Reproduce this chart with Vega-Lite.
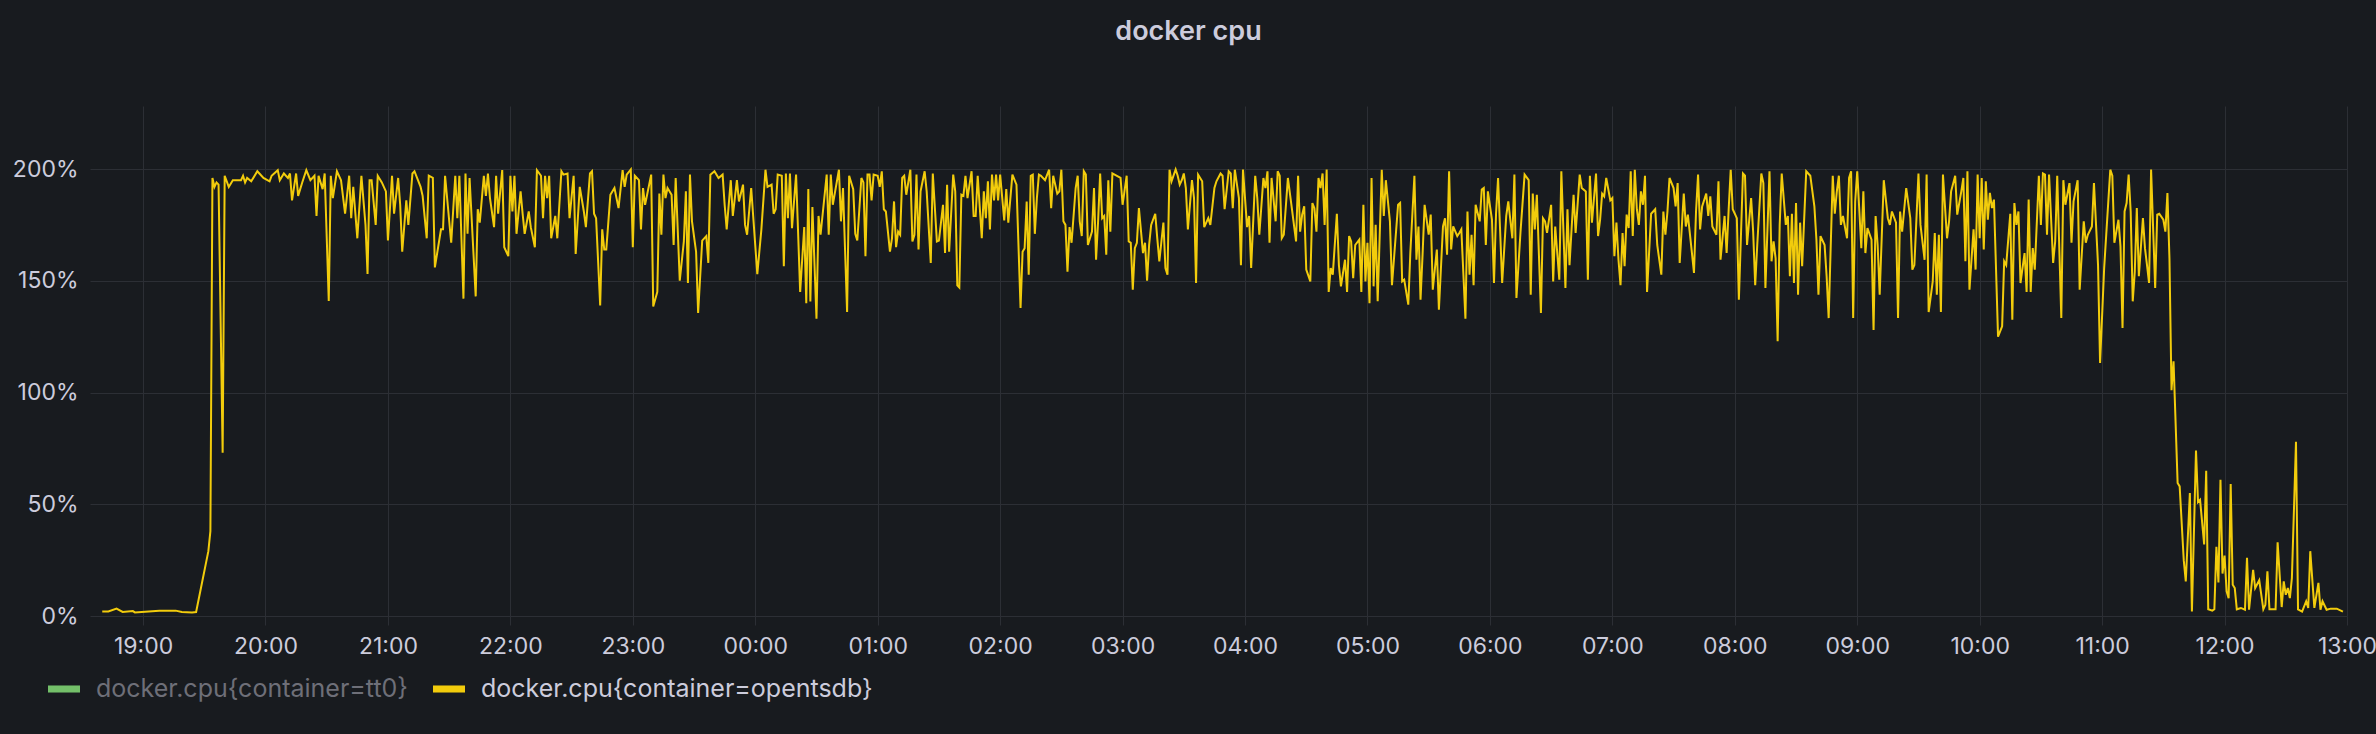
{
"$schema": "https://vega.github.io/schema/vega-lite/v6.json",
"width": 2257, "height": 510,
"autosize": {"type": "none"},
"padding": {"left": 90, "top": 106, "right": 29, "bottom": 118},
"background": "#181b1f",
"config": {"view": {"stroke": null}},
"title": {"text": "docker cpu", "anchor": "middle", "frame": "group", "dx": -30, "offset": 60, "fontSize": 27, "font": "Inter", "fontWeight": 600, "color": "#ccccdc"},
"layer": [
{
"data": {"values": [
{"t":"2024-01-01T18:40","v":2},{"t":"2024-01-01T18:43","v":2},{"t":"2024-01-01T18:47","v":3.3},{"t":"2024-01-01T18:50","v":1.8},{"t":"2024-01-01T18:55","v":2.2},{"t":"2024-01-01T18:56","v":1.6},{"t":"2024-01-01T19:01","v":1.9},{"t":"2024-01-01T19:08","v":2.3},{"t":"2024-01-01T19:16","v":2.4},{"t":"2024-01-01T19:19","v":1.8},{"t":"2024-01-01T19:24","v":1.6},{"t":"2024-01-01T19:26","v":1.8},{"t":"2024-01-01T19:32","v":29},{"t":"2024-01-01T19:33","v":38},{"t":"2024-01-01T19:34","v":196},{"t":"2024-01-01T19:35","v":192},{"t":"2024-01-01T19:36","v":194},{"t":"2024-01-01T19:37","v":193},{"t":"2024-01-01T19:39","v":73},{"t":"2024-01-01T19:40","v":197},{"t":"2024-01-01T19:42","v":192},{"t":"2024-01-01T19:44","v":195},{"t":"2024-01-01T19:48","v":195},{"t":"2024-01-01T19:49","v":197},{"t":"2024-01-01T19:50","v":194},{"t":"2024-01-01T19:51","v":196},{"t":"2024-01-01T19:53","v":194.5},{"t":"2024-01-01T19:56","v":199},{"t":"2024-01-01T19:59","v":196},
{"t":"2024-01-01T20:02","v":194.5},{"t":"2024-01-01T20:03","v":197},{"t":"2024-01-01T20:06","v":199.5},{"t":"2024-01-01T20:07","v":195},{"t":"2024-01-01T20:09","v":198},{"t":"2024-01-01T20:11","v":196},{"t":"2024-01-01T20:12","v":198},{"t":"2024-01-01T20:13","v":186},{"t":"2024-01-01T20:15","v":198},{"t":"2024-01-01T20:16","v":188},{"t":"2024-01-01T20:18","v":194},{"t":"2024-01-01T20:20","v":199.5},{"t":"2024-01-01T20:22","v":195},{"t":"2024-01-01T20:24","v":197},{"t":"2024-01-01T20:25","v":179},{"t":"2024-01-01T20:26","v":197},{"t":"2024-01-01T20:28","v":191},{"t":"2024-01-01T20:29","v":198},{"t":"2024-01-01T20:31","v":141},{"t":"2024-01-01T20:32","v":197},{"t":"2024-01-01T20:33","v":187},{"t":"2024-01-01T20:35","v":199},{"t":"2024-01-01T20:37","v":195},{"t":"2024-01-01T20:39","v":180},{"t":"2024-01-01T20:41","v":197},{"t":"2024-01-01T20:42","v":178},{"t":"2024-01-01T20:43","v":192},{"t":"2024-01-01T20:45","v":169},{"t":"2024-01-01T20:47","v":197},{"t":"2024-01-01T20:49","v":175},{"t":"2024-01-01T20:50","v":153},{"t":"2024-01-01T20:51","v":195},{"t":"2024-01-01T20:52","v":195},{"t":"2024-01-01T20:54","v":175},{"t":"2024-01-01T20:55","v":197},{"t":"2024-01-01T20:57","v":194},{"t":"2024-01-01T20:59","v":190},
{"t":"2024-01-01T21:00","v":168},{"t":"2024-01-01T21:02","v":197},{"t":"2024-01-01T21:03","v":180},{"t":"2024-01-01T21:05","v":196},{"t":"2024-01-01T21:06","v":184},{"t":"2024-01-01T21:07","v":163},{"t":"2024-01-01T21:09","v":186},{"t":"2024-01-01T21:10","v":175},{"t":"2024-01-01T21:12","v":198},{"t":"2024-01-01T21:13","v":199},{"t":"2024-01-01T21:16","v":192},{"t":"2024-01-01T21:17","v":188},{"t":"2024-01-01T21:19","v":169},{"t":"2024-01-01T21:20","v":197},{"t":"2024-01-01T21:22","v":196},{"t":"2024-01-01T21:23","v":156},{"t":"2024-01-01T21:26","v":173},{"t":"2024-01-01T21:27","v":173},{"t":"2024-01-01T21:28","v":197},{"t":"2024-01-01T21:31","v":167},{"t":"2024-01-01T21:33","v":197},{"t":"2024-01-01T21:34","v":178},{"t":"2024-01-01T21:35","v":197},{"t":"2024-01-01T21:37","v":142},{"t":"2024-01-01T21:38","v":198},{"t":"2024-01-01T21:39","v":171},{"t":"2024-01-01T21:40","v":196},{"t":"2024-01-01T21:43","v":143},{"t":"2024-01-01T21:44","v":182},{"t":"2024-01-01T21:45","v":176},{"t":"2024-01-01T21:47","v":197},{"t":"2024-01-01T21:48","v":188},{"t":"2024-01-01T21:49","v":198},{"t":"2024-01-01T21:50","v":187},{"t":"2024-01-01T21:52","v":174},{"t":"2024-01-01T21:53","v":197},{"t":"2024-01-01T21:54","v":180},{"t":"2024-01-01T21:56","v":199.5},{"t":"2024-01-01T21:57","v":165},{"t":"2024-01-01T21:59","v":161},
{"t":"2024-01-01T22:00","v":197},{"t":"2024-01-01T22:01","v":181},{"t":"2024-01-01T22:02","v":197},{"t":"2024-01-01T22:03","v":171},{"t":"2024-01-01T22:05","v":190},{"t":"2024-01-01T22:06","v":180},{"t":"2024-01-01T22:07","v":171},{"t":"2024-01-01T22:09","v":181},{"t":"2024-01-01T22:10","v":174},{"t":"2024-01-01T22:12","v":165},{"t":"2024-01-01T22:13","v":199.5},{"t":"2024-01-01T22:15","v":197},{"t":"2024-01-01T22:16","v":178},{"t":"2024-01-01T22:17","v":197},{"t":"2024-01-01T22:18","v":187},{"t":"2024-01-01T22:19","v":197},{"t":"2024-01-01T22:20","v":169},{"t":"2024-01-01T22:22","v":179},{"t":"2024-01-01T22:23","v":169},{"t":"2024-01-01T22:25","v":199},{"t":"2024-01-01T22:26","v":197.5},{"t":"2024-01-01T22:28","v":198},{"t":"2024-01-01T22:29","v":178},{"t":"2024-01-01T22:31","v":197},{"t":"2024-01-01T22:32","v":162},{"t":"2024-01-01T22:34","v":192},{"t":"2024-01-01T22:36","v":181},{"t":"2024-01-01T22:37","v":174},{"t":"2024-01-01T22:39","v":198},{"t":"2024-01-01T22:40","v":199},{"t":"2024-01-01T22:41","v":180},{"t":"2024-01-01T22:42","v":178},{"t":"2024-01-01T22:44","v":139},{"t":"2024-01-01T22:45","v":173},{"t":"2024-01-01T22:46","v":164},{"t":"2024-01-01T22:47","v":164},{"t":"2024-01-01T22:49","v":188.5},{"t":"2024-01-01T22:51","v":191.5},{"t":"2024-01-01T22:53","v":182.5},{"t":"2024-01-01T22:55","v":199.5},{"t":"2024-01-01T22:56","v":192},{"t":"2024-01-01T22:57","v":197.5},{"t":"2024-01-01T22:59","v":199.8},
{"t":"2024-01-01T23:00","v":165},{"t":"2024-01-01T23:01","v":197},{"t":"2024-01-01T23:03","v":195},{"t":"2024-01-01T23:04","v":173},{"t":"2024-01-01T23:05","v":191.5},{"t":"2024-01-01T23:06","v":184},{"t":"2024-01-01T23:09","v":197.5},{"t":"2024-01-01T23:10","v":138.5},{"t":"2024-01-01T23:12","v":145},{"t":"2024-01-01T23:13","v":189},{"t":"2024-01-01T23:14","v":170.6},{"t":"2024-01-01T23:15","v":197.5},{"t":"2024-01-01T23:16","v":187},{"t":"2024-01-01T23:17","v":191.5},{"t":"2024-01-01T23:19","v":188.5},{"t":"2024-01-01T23:20","v":166},{"t":"2024-01-01T23:21","v":196},{"t":"2024-01-01T23:23","v":150},{"t":"2024-01-01T23:25","v":167.6},{"t":"2024-01-01T23:26","v":190},{"t":"2024-01-01T23:27","v":149},{"t":"2024-01-01T23:28","v":197.5},{"t":"2024-01-01T23:29","v":176.6},{"t":"2024-01-01T23:31","v":163},{"t":"2024-01-01T23:32","v":135.6},{"t":"2024-01-01T23:34","v":168},{"t":"2024-01-01T23:36","v":170},{"t":"2024-01-01T23:37","v":158},{"t":"2024-01-01T23:38","v":197.5},{"t":"2024-01-01T23:40","v":199},{"t":"2024-01-01T23:42","v":196},{"t":"2024-01-01T23:44","v":197.5},{"t":"2024-01-01T23:45","v":184},{"t":"2024-01-01T23:46","v":173},{"t":"2024-01-01T23:48","v":195},{"t":"2024-01-01T23:49","v":179},{"t":"2024-01-01T23:51","v":195},{"t":"2024-01-01T23:52","v":185.5},{"t":"2024-01-01T23:54","v":193},{"t":"2024-01-01T23:55","v":175},{"t":"2024-01-01T23:56","v":170.6},{"t":"2024-01-01T23:58","v":191.5},
{"t":"2024-01-02T00:01","v":153},{"t":"2024-01-02T00:03","v":173},{"t":"2024-01-02T00:05","v":199.7},{"t":"2024-01-02T00:06","v":192},{"t":"2024-01-02T00:08","v":193},{"t":"2024-01-02T00:09","v":180},{"t":"2024-01-02T00:10","v":182},{"t":"2024-01-02T00:11","v":197.5},{"t":"2024-01-02T00:13","v":197},{"t":"2024-01-02T00:14","v":156.5},{"t":"2024-01-02T00:15","v":198},{"t":"2024-01-02T00:16","v":178},{"t":"2024-01-02T00:17","v":198},{"t":"2024-01-02T00:18","v":173.5},{"t":"2024-01-02T00:20","v":197.5},{"t":"2024-01-02T00:22","v":145},{"t":"2024-01-02T00:24","v":174},{"t":"2024-01-02T00:25","v":140},{"t":"2024-01-02T00:26","v":191},{"t":"2024-01-02T00:27","v":140.7},{"t":"2024-01-02T00:28","v":183},{"t":"2024-01-02T00:30","v":133},{"t":"2024-01-02T00:31","v":179},{"t":"2024-01-02T00:32","v":170.6},{"t":"2024-01-02T00:35","v":197.5},{"t":"2024-01-02T00:36","v":170.6},{"t":"2024-01-02T00:37","v":197.5},{"t":"2024-01-02T00:38","v":184},{"t":"2024-01-02T00:41","v":199.7},{"t":"2024-01-02T00:42","v":176.6},{"t":"2024-01-02T00:43","v":191.5},{"t":"2024-01-02T00:45","v":136},{"t":"2024-01-02T00:46","v":197},{"t":"2024-01-02T00:48","v":191},{"t":"2024-01-02T00:49","v":171},{"t":"2024-01-02T00:50","v":168},{"t":"2024-01-02T00:52","v":196},{"t":"2024-01-02T00:53","v":194},{"t":"2024-01-02T00:54","v":161},{"t":"2024-01-02T00:55","v":197.5},{"t":"2024-01-02T00:56","v":197.5},{"t":"2024-01-02T00:57","v":186},{"t":"2024-01-02T00:58","v":197.5},
{"t":"2024-01-02T01:00","v":197},{"t":"2024-01-02T01:01","v":192},{"t":"2024-01-02T01:02","v":199},{"t":"2024-01-02T01:03","v":182},{"t":"2024-01-02T01:04","v":181},{"t":"2024-01-02T01:06","v":163},{"t":"2024-01-02T01:07","v":169},{"t":"2024-01-02T01:08","v":185.5},{"t":"2024-01-02T01:09","v":165},{"t":"2024-01-02T01:10","v":172},{"t":"2024-01-02T01:11","v":170.6},{"t":"2024-01-02T01:12","v":196},{"t":"2024-01-02T01:13","v":197},{"t":"2024-01-02T01:14","v":188.5},{"t":"2024-01-02T01:16","v":199.7},{"t":"2024-01-02T01:17","v":167.6},{"t":"2024-01-02T01:18","v":170.6},{"t":"2024-01-02T01:19","v":197.5},{"t":"2024-01-02T01:20","v":164},{"t":"2024-01-02T01:21","v":190},{"t":"2024-01-02T01:23","v":199},{"t":"2024-01-02T01:24","v":190},{"t":"2024-01-02T01:26","v":158},{"t":"2024-01-02T01:27","v":198},{"t":"2024-01-02T01:29","v":167.6},{"t":"2024-01-02T01:30","v":168},{"t":"2024-01-02T01:32","v":184},{"t":"2024-01-02T01:33","v":162.4},{"t":"2024-01-02T01:34","v":193},{"t":"2024-01-02T01:35","v":163},{"t":"2024-01-02T01:37","v":197.5},{"t":"2024-01-02T01:38","v":190},{"t":"2024-01-02T01:39","v":148},{"t":"2024-01-02T01:40","v":147},{"t":"2024-01-02T01:41","v":188.5},{"t":"2024-01-02T01:42","v":188},{"t":"2024-01-02T01:43","v":197},{"t":"2024-01-02T01:44","v":187},{"t":"2024-01-02T01:46","v":199},{"t":"2024-01-02T01:47","v":179},{"t":"2024-01-02T01:48","v":179},{"t":"2024-01-02T01:49","v":197},{"t":"2024-01-02T01:51","v":169},{"t":"2024-01-02T01:52","v":190},{"t":"2024-01-02T01:53","v":178},{"t":"2024-01-02T01:54","v":194.5},{"t":"2024-01-02T01:55","v":173},{"t":"2024-01-02T01:56","v":197.5},{"t":"2024-01-02T01:57","v":186},{"t":"2024-01-02T01:58","v":197.5},{"t":"2024-01-02T01:59","v":186},
{"t":"2024-01-02T02:00","v":197.5},{"t":"2024-01-02T02:02","v":177},{"t":"2024-01-02T02:03","v":191},{"t":"2024-01-02T02:04","v":176},{"t":"2024-01-02T02:06","v":197.5},{"t":"2024-01-02T02:08","v":193},{"t":"2024-01-02T02:10","v":137.8},{"t":"2024-01-02T02:11","v":163},{"t":"2024-01-02T02:12","v":164.6},{"t":"2024-01-02T02:13","v":185.5},{"t":"2024-01-02T02:14","v":152.7},{"t":"2024-01-02T02:15","v":197},{"t":"2024-01-02T02:16","v":197.5},{"t":"2024-01-02T02:17","v":171},{"t":"2024-01-02T02:18","v":187},{"t":"2024-01-02T02:19","v":197.5},{"t":"2024-01-02T02:20","v":197},{"t":"2024-01-02T02:22","v":195},{"t":"2024-01-02T02:24","v":199.7},{"t":"2024-01-02T02:25","v":182.5},{"t":"2024-01-02T02:26","v":197},{"t":"2024-01-02T02:28","v":189},{"t":"2024-01-02T02:29","v":190},{"t":"2024-01-02T02:30","v":199.7},{"t":"2024-01-02T02:31","v":176.6},{"t":"2024-01-02T02:32","v":175},{"t":"2024-01-02T02:33","v":154},{"t":"2024-01-02T02:34","v":174},{"t":"2024-01-02T02:35","v":167},{"t":"2024-01-02T02:37","v":191.5},{"t":"2024-01-02T02:38","v":197},{"t":"2024-01-02T02:39","v":176.6},{"t":"2024-01-02T02:40","v":170},{"t":"2024-01-02T02:41","v":199},{"t":"2024-01-02T02:42","v":197.5},{"t":"2024-01-02T02:43","v":166},{"t":"2024-01-02T02:45","v":172},{"t":"2024-01-02T02:46","v":191.5},{"t":"2024-01-02T02:47","v":159.4},{"t":"2024-01-02T02:48","v":176.6},{"t":"2024-01-02T02:49","v":198},{"t":"2024-01-02T02:50","v":178},{"t":"2024-01-02T02:51","v":179},{"t":"2024-01-02T02:52","v":161.7},{"t":"2024-01-02T02:53","v":195},{"t":"2024-01-02T02:54","v":172},{"t":"2024-01-02T02:55","v":198},{"t":"2024-01-02T02:57","v":197},{"t":"2024-01-02T02:59","v":196},
{"t":"2024-01-02T03:00","v":184},{"t":"2024-01-02T03:02","v":197},{"t":"2024-01-02T03:03","v":167.6},{"t":"2024-01-02T03:04","v":167},{"t":"2024-01-02T03:05","v":146},{"t":"2024-01-02T03:06","v":164.6},{"t":"2024-01-02T03:07","v":167},{"t":"2024-01-02T03:08","v":182.5},{"t":"2024-01-02T03:10","v":162.4},{"t":"2024-01-02T03:11","v":167},{"t":"2024-01-02T03:12","v":150},{"t":"2024-01-02T03:13","v":166},{"t":"2024-01-02T03:14","v":175},{"t":"2024-01-02T03:16","v":180},{"t":"2024-01-02T03:17","v":169},{"t":"2024-01-02T03:18","v":158.7},{"t":"2024-01-02T03:20","v":176},{"t":"2024-01-02T03:21","v":155.7},{"t":"2024-01-02T03:22","v":152.7},{"t":"2024-01-02T03:23","v":199.7},{"t":"2024-01-02T03:24","v":194.5},{"t":"2024-01-02T03:26","v":199.8},{"t":"2024-01-02T03:27","v":197},{"t":"2024-01-02T03:28","v":193},{"t":"2024-01-02T03:29","v":195},{"t":"2024-01-02T03:30","v":198},{"t":"2024-01-02T03:31","v":191.5},{"t":"2024-01-02T03:32","v":173},{"t":"2024-01-02T03:34","v":195},{"t":"2024-01-02T03:35","v":187},{"t":"2024-01-02T03:36","v":149},{"t":"2024-01-02T03:37","v":197.5},{"t":"2024-01-02T03:39","v":194.5},{"t":"2024-01-02T03:40","v":174},{"t":"2024-01-02T03:42","v":178},{"t":"2024-01-02T03:43","v":175},{"t":"2024-01-02T03:45","v":191.5},{"t":"2024-01-02T03:46","v":194.5},{"t":"2024-01-02T03:48","v":198},{"t":"2024-01-02T03:49","v":197},{"t":"2024-01-02T03:50","v":182},{"t":"2024-01-02T03:52","v":199},{"t":"2024-01-02T03:53","v":198},{"t":"2024-01-02T03:54","v":182.5},{"t":"2024-01-02T03:55","v":199.7},{"t":"2024-01-02T03:57","v":187},{"t":"2024-01-02T03:58","v":157},{"t":"2024-01-02T03:59","v":199.8},
{"t":"2024-01-02T04:01","v":174},{"t":"2024-01-02T04:02","v":179},{"t":"2024-01-02T04:03","v":155.7},{"t":"2024-01-02T04:05","v":197},{"t":"2024-01-02T04:06","v":187},{"t":"2024-01-02T04:07","v":170.6},{"t":"2024-01-02T04:09","v":196},{"t":"2024-01-02T04:10","v":191.5},{"t":"2024-01-02T04:11","v":199},{"t":"2024-01-02T04:12","v":167},{"t":"2024-01-02T04:13","v":196},{"t":"2024-01-02T04:15","v":176.6},{"t":"2024-01-02T04:16","v":199},{"t":"2024-01-02T04:17","v":197},{"t":"2024-01-02T04:18","v":169},{"t":"2024-01-02T04:19","v":170.6},{"t":"2024-01-02T04:21","v":196},{"t":"2024-01-02T04:23","v":182},{"t":"2024-01-02T04:25","v":167.6},{"t":"2024-01-02T04:26","v":197},{"t":"2024-01-02T04:27","v":172},{"t":"2024-01-02T04:28","v":179.6},{"t":"2024-01-02T04:29","v":183.3},{"t":"2024-01-02T04:30","v":155},{"t":"2024-01-02T04:32","v":149.7},{"t":"2024-01-02T04:33","v":184.8},{"t":"2024-01-02T04:34","v":182.5},{"t":"2024-01-02T04:35","v":172},{"t":"2024-01-02T04:36","v":196},{"t":"2024-01-02T04:37","v":191.5},{"t":"2024-01-02T04:38","v":198},{"t":"2024-01-02T04:39","v":175},{"t":"2024-01-02T04:40","v":199.8},{"t":"2024-01-02T04:41","v":145},{"t":"2024-01-02T04:42","v":155.7},{"t":"2024-01-02T04:43","v":152.7},{"t":"2024-01-02T04:45","v":180},{"t":"2024-01-02T04:46","v":157},{"t":"2024-01-02T04:47","v":147.5},{"t":"2024-01-02T04:49","v":159.4},{"t":"2024-01-02T04:50","v":145},{"t":"2024-01-02T04:51","v":170},{"t":"2024-01-02T04:52","v":167.6},{"t":"2024-01-02T04:53","v":151.2},{"t":"2024-01-02T04:54","v":166},{"t":"2024-01-02T04:56","v":168.4},{"t":"2024-01-02T04:57","v":145},{"t":"2024-01-02T04:58","v":184},{"t":"2024-01-02T04:59","v":149.7},
{"t":"2024-01-02T05:00","v":167},{"t":"2024-01-02T05:01","v":140},{"t":"2024-01-02T05:02","v":196},{"t":"2024-01-02T05:03","v":147.5},{"t":"2024-01-02T05:04","v":175},{"t":"2024-01-02T05:05","v":140.8},{"t":"2024-01-02T05:07","v":199.7},{"t":"2024-01-02T05:08","v":179},{"t":"2024-01-02T05:09","v":195},{"t":"2024-01-02T05:11","v":176.6},{"t":"2024-01-02T05:12","v":148},{"t":"2024-01-02T05:14","v":172},{"t":"2024-01-02T05:15","v":184},{"t":"2024-01-02T05:16","v":184.8},{"t":"2024-01-02T05:17","v":149.7},{"t":"2024-01-02T05:18","v":150.5},{"t":"2024-01-02T05:20","v":139.3},{"t":"2024-01-02T05:21","v":162.4},{"t":"2024-01-02T05:23","v":197},{"t":"2024-01-02T05:24","v":159.4},{"t":"2024-01-02T05:25","v":174.3},{"t":"2024-01-02T05:26","v":141.5},{"t":"2024-01-02T05:27","v":161.7},{"t":"2024-01-02T05:28","v":184},{"t":"2024-01-02T05:30","v":170.6},{"t":"2024-01-02T05:31","v":179.6},{"t":"2024-01-02T05:32","v":146},{"t":"2024-01-02T05:34","v":164},{"t":"2024-01-02T05:35","v":137},{"t":"2024-01-02T05:37","v":174.3},{"t":"2024-01-02T05:38","v":178},{"t":"2024-01-02T05:39","v":161.7},{"t":"2024-01-02T05:40","v":199},{"t":"2024-01-02T05:41","v":164},{"t":"2024-01-02T05:42","v":174.3},{"t":"2024-01-02T05:44","v":170},{"t":"2024-01-02T05:45","v":171.4},{"t":"2024-01-02T05:46","v":173},{"t":"2024-01-02T05:48","v":133},{"t":"2024-01-02T05:49","v":181},{"t":"2024-01-02T05:50","v":152.7},{"t":"2024-01-02T05:51","v":170.6},{"t":"2024-01-02T05:52","v":148},{"t":"2024-01-02T05:53","v":184},{"t":"2024-01-02T05:55","v":176.6},{"t":"2024-01-02T05:56","v":190.8},{"t":"2024-01-02T05:57","v":191.5},{"t":"2024-01-02T05:58","v":166},{"t":"2024-01-02T05:59","v":190},
{"t":"2024-01-02T06:01","v":177.4},{"t":"2024-01-02T06:02","v":149},{"t":"2024-01-02T06:03","v":180},{"t":"2024-01-02T06:04","v":196},{"t":"2024-01-02T06:06","v":149},{"t":"2024-01-02T06:08","v":179},{"t":"2024-01-02T06:09","v":185.5},{"t":"2024-01-02T06:11","v":169},{"t":"2024-01-02T06:12","v":197.5},{"t":"2024-01-02T06:13","v":142.3},{"t":"2024-01-02T06:15","v":172},{"t":"2024-01-02T06:17","v":197.5},{"t":"2024-01-02T06:19","v":195},{"t":"2024-01-02T06:20","v":143.8},{"t":"2024-01-02T06:21","v":189},{"t":"2024-01-02T06:22","v":173},{"t":"2024-01-02T06:23","v":188.5},{"t":"2024-01-02T06:25","v":135.6},{"t":"2024-01-02T06:26","v":178},{"t":"2024-01-02T06:27","v":176.6},{"t":"2024-01-02T06:28","v":171.4},{"t":"2024-01-02T06:30","v":184},{"t":"2024-01-02T06:31","v":149.7},{"t":"2024-01-02T06:32","v":174.3},{"t":"2024-01-02T06:34","v":150.5},{"t":"2024-01-02T06:35","v":199},{"t":"2024-01-02T06:37","v":146.8},{"t":"2024-01-02T06:38","v":182},{"t":"2024-01-02T06:39","v":157},{"t":"2024-01-02T06:41","v":188.5},{"t":"2024-01-02T06:42","v":171.4},{"t":"2024-01-02T06:44","v":197.5},{"t":"2024-01-02T06:45","v":191.5},{"t":"2024-01-02T06:47","v":190},{"t":"2024-01-02T06:48","v":150.5},{"t":"2024-01-02T06:49","v":197},{"t":"2024-01-02T06:50","v":176},{"t":"2024-01-02T06:52","v":198},{"t":"2024-01-02T06:53","v":170},{"t":"2024-01-02T06:54","v":177.4},{"t":"2024-01-02T06:55","v":189},{"t":"2024-01-02T06:56","v":187.8},{"t":"2024-01-02T06:57","v":196},{"t":"2024-01-02T06:59","v":186},
{"t":"2024-01-02T07:00","v":187},{"t":"2024-01-02T07:01","v":161},{"t":"2024-01-02T07:02","v":176},{"t":"2024-01-02T07:03","v":159.4},{"t":"2024-01-02T07:04","v":148},{"t":"2024-01-02T07:05","v":171.4},{"t":"2024-01-02T07:06","v":156.5},{"t":"2024-01-02T07:07","v":179.6},{"t":"2024-01-02T07:08","v":173.6},{"t":"2024-01-02T07:09","v":199},{"t":"2024-01-02T07:10","v":170},{"t":"2024-01-02T07:11","v":199.7},{"t":"2024-01-02T07:12","v":182},{"t":"2024-01-02T07:13","v":175},{"t":"2024-01-02T07:14","v":190},{"t":"2024-01-02T07:15","v":184},{"t":"2024-01-02T07:16","v":197},{"t":"2024-01-02T07:17","v":145},{"t":"2024-01-02T07:19","v":180},{"t":"2024-01-02T07:21","v":182},{"t":"2024-01-02T07:22","v":166},{"t":"2024-01-02T07:24","v":152.7},{"t":"2024-01-02T07:25","v":181},{"t":"2024-01-02T07:26","v":170.6},{"t":"2024-01-02T07:27","v":181},{"t":"2024-01-02T07:28","v":196},{"t":"2024-01-02T07:30","v":191.5},{"t":"2024-01-02T07:31","v":183.3},{"t":"2024-01-02T07:32","v":193.7},{"t":"2024-01-02T07:33","v":158},{"t":"2024-01-02T07:35","v":189},{"t":"2024-01-02T07:36","v":174.3},{"t":"2024-01-02T07:37","v":179.6},{"t":"2024-01-02T07:39","v":162.4},{"t":"2024-01-02T07:40","v":153.5},{"t":"2024-01-02T07:41","v":181},{"t":"2024-01-02T07:42","v":197.5},{"t":"2024-01-02T07:43","v":173},{"t":"2024-01-02T07:44","v":183.3},{"t":"2024-01-02T07:46","v":189},{"t":"2024-01-02T07:47","v":179},{"t":"2024-01-02T07:48","v":187.8},{"t":"2024-01-02T07:49","v":174.3},{"t":"2024-01-02T07:51","v":170.6},{"t":"2024-01-02T07:52","v":194.5},{"t":"2024-01-02T07:53","v":159.4},{"t":"2024-01-02T07:55","v":179},{"t":"2024-01-02T07:56","v":162.4},{"t":"2024-01-02T07:57","v":182},{"t":"2024-01-02T07:58","v":199.7},{"t":"2024-01-02T07:59","v":182},
{"t":"2024-01-02T08:01","v":178},{"t":"2024-01-02T08:02","v":141.5},{"t":"2024-01-02T08:04","v":198},{"t":"2024-01-02T08:05","v":197},{"t":"2024-01-02T08:06","v":166},{"t":"2024-01-02T08:08","v":187},{"t":"2024-01-02T08:09","v":172},{"t":"2024-01-02T08:10","v":148},{"t":"2024-01-02T08:11","v":166},{"t":"2024-01-02T08:13","v":198},{"t":"2024-01-02T08:14","v":193.7},{"t":"2024-01-02T08:15","v":146.8},{"t":"2024-01-02T08:17","v":199},{"t":"2024-01-02T08:18","v":158.7},{"t":"2024-01-02T08:19","v":167.6},{"t":"2024-01-02T08:20","v":160},{"t":"2024-01-02T08:21","v":122.9},{"t":"2024-01-02T08:22","v":175},{"t":"2024-01-02T08:23","v":198},{"t":"2024-01-02T08:25","v":175},{"t":"2024-01-02T08:26","v":179},{"t":"2024-01-02T08:27","v":152},{"t":"2024-01-02T08:28","v":180},{"t":"2024-01-02T08:29","v":149},{"t":"2024-01-02T08:30","v":184.8},{"t":"2024-01-02T08:31","v":143.8},{"t":"2024-01-02T08:32","v":176},{"t":"2024-01-02T08:33","v":156.5},{"t":"2024-01-02T08:35","v":199},{"t":"2024-01-02T08:37","v":197},{"t":"2024-01-02T08:39","v":183.3},{"t":"2024-01-02T08:40","v":168.4},{"t":"2024-01-02T08:41","v":143.8},{"t":"2024-01-02T08:42","v":170},{"t":"2024-01-02T08:44","v":166},{"t":"2024-01-02T08:45","v":152},{"t":"2024-01-02T08:46","v":133.3},{"t":"2024-01-02T08:48","v":197},{"t":"2024-01-02T08:49","v":180},{"t":"2024-01-02T08:50","v":190},{"t":"2024-01-02T08:51","v":197},{"t":"2024-01-02T08:52","v":175},{"t":"2024-01-02T08:53","v":179},{"t":"2024-01-02T08:55","v":169},{"t":"2024-01-02T08:56","v":196},{"t":"2024-01-02T08:57","v":199},{"t":"2024-01-02T08:58","v":133.3},{"t":"2024-01-02T08:59","v":185.5},
{"t":"2024-01-02T09:00","v":199},{"t":"2024-01-02T09:02","v":164.6},{"t":"2024-01-02T09:03","v":190},{"t":"2024-01-02T09:04","v":162.4},{"t":"2024-01-02T09:05","v":173.6},{"t":"2024-01-02T09:07","v":168.4},{"t":"2024-01-02T09:08","v":128},{"t":"2024-01-02T09:09","v":179},{"t":"2024-01-02T09:10","v":166},{"t":"2024-01-02T09:11","v":143.8},{"t":"2024-01-02T09:13","v":195},{"t":"2024-01-02T09:15","v":178},{"t":"2024-01-02T09:16","v":175},{"t":"2024-01-02T09:17","v":181},{"t":"2024-01-02T09:19","v":176},{"t":"2024-01-02T09:20","v":133.3},{"t":"2024-01-02T09:21","v":181},{"t":"2024-01-02T09:22","v":172},{"t":"2024-01-02T09:24","v":191.5},{"t":"2024-01-02T09:26","v":178},{"t":"2024-01-02T09:27","v":155},{"t":"2024-01-02T09:28","v":157},{"t":"2024-01-02T09:30","v":198},{"t":"2024-01-02T09:31","v":175},{"t":"2024-01-02T09:33","v":159.4},{"t":"2024-01-02T09:34","v":197.5},{"t":"2024-01-02T09:35","v":136},{"t":"2024-01-02T09:37","v":149.7},{"t":"2024-01-02T09:38","v":171.4},{"t":"2024-01-02T09:39","v":143.8},{"t":"2024-01-02T09:40","v":170.6},{"t":"2024-01-02T09:41","v":136},{"t":"2024-01-02T09:42","v":197.5},{"t":"2024-01-02T09:44","v":169},{"t":"2024-01-02T09:45","v":176.6},{"t":"2024-01-02T09:46","v":190},{"t":"2024-01-02T09:48","v":197},{"t":"2024-01-02T09:49","v":179.6},{"t":"2024-01-02T09:51","v":190},{"t":"2024-01-02T09:52","v":196},{"t":"2024-01-02T09:53","v":158.7},{"t":"2024-01-02T09:54","v":199},{"t":"2024-01-02T09:55","v":146},{"t":"2024-01-02T09:57","v":173},{"t":"2024-01-02T09:58","v":155},{"t":"2024-01-02T09:59","v":197.5},
{"t":"2024-01-02T10:00","v":169},{"t":"2024-01-02T10:01","v":196},{"t":"2024-01-02T10:02","v":164},{"t":"2024-01-02T10:03","v":194.5},{"t":"2024-01-02T10:04","v":177.3},{"t":"2024-01-02T10:05","v":189.3},{"t":"2024-01-02T10:06","v":182.5},{"t":"2024-01-02T10:07","v":186.3},{"t":"2024-01-02T10:09","v":125},{"t":"2024-01-02T10:11","v":129.6},{"t":"2024-01-02T10:12","v":158.7},{"t":"2024-01-02T10:13","v":157},{"t":"2024-01-02T10:15","v":180},{"t":"2024-01-02T10:16","v":132.6},{"t":"2024-01-02T10:17","v":184.8},{"t":"2024-01-02T10:18","v":175},{"t":"2024-01-02T10:19","v":181},{"t":"2024-01-02T10:20","v":149},{"t":"2024-01-02T10:22","v":162.4},{"t":"2024-01-02T10:23","v":145},{"t":"2024-01-02T10:24","v":186.3},{"t":"2024-01-02T10:25","v":145},{"t":"2024-01-02T10:26","v":164.6},{"t":"2024-01-02T10:27","v":155},{"t":"2024-01-02T10:29","v":197},{"t":"2024-01-02T10:30","v":175},{"t":"2024-01-02T10:31","v":198},{"t":"2024-01-02T10:32","v":197.5},{"t":"2024-01-02T10:33","v":170.6},{"t":"2024-01-02T10:34","v":197.5},{"t":"2024-01-02T10:36","v":158},{"t":"2024-01-02T10:37","v":167.6},{"t":"2024-01-02T10:38","v":197},{"t":"2024-01-02T10:40","v":133.3},{"t":"2024-01-02T10:41","v":195},{"t":"2024-01-02T10:42","v":184},{"t":"2024-01-02T10:44","v":193.7},{"t":"2024-01-02T10:45","v":167},{"t":"2024-01-02T10:46","v":185.5},{"t":"2024-01-02T10:48","v":195},{"t":"2024-01-02T10:49","v":146},{"t":"2024-01-02T10:51","v":176.6},{"t":"2024-01-02T10:52","v":167},{"t":"2024-01-02T10:53","v":170.6},{"t":"2024-01-02T10:55","v":174.3},{"t":"2024-01-02T10:56","v":193.7},{"t":"2024-01-02T10:58","v":157},{"t":"2024-01-02T10:59","v":113.2},
{"t":"2024-01-02T11:01","v":155.7},{"t":"2024-01-02T11:04","v":199.7},{"t":"2024-01-02T11:05","v":197},{"t":"2024-01-02T11:06","v":167},{"t":"2024-01-02T11:08","v":177.3},{"t":"2024-01-02T11:09","v":165.4},{"t":"2024-01-02T11:10","v":128.9},{"t":"2024-01-02T11:11","v":181},{"t":"2024-01-02T11:12","v":184.8},{"t":"2024-01-02T11:13","v":197.5},{"t":"2024-01-02T11:14","v":181},{"t":"2024-01-02T11:15","v":140.8},{"t":"2024-01-02T11:16","v":154},{"t":"2024-01-02T11:17","v":182.5},{"t":"2024-01-02T11:18","v":152},{"t":"2024-01-02T11:20","v":178},{"t":"2024-01-02T11:21","v":164.6},{"t":"2024-01-02T11:22","v":157},{"t":"2024-01-02T11:23","v":149},{"t":"2024-01-02T11:24","v":199.8},{"t":"2024-01-02T11:26","v":146.8},{"t":"2024-01-02T11:27","v":179.6},{"t":"2024-01-02T11:28","v":180},{"t":"2024-01-02T11:30","v":177.3},{"t":"2024-01-02T11:31","v":172},{"t":"2024-01-02T11:32","v":189.3},{"t":"2024-01-02T11:33","v":160},{"t":"2024-01-02T11:34","v":101},{"t":"2024-01-02T11:35","v":114},{"t":"2024-01-02T11:37","v":59.5},{"t":"2024-01-02T11:38","v":58},{"t":"2024-01-02T11:40","v":25},{"t":"2024-01-02T11:41","v":15.5},{"t":"2024-01-02T11:43","v":55},{"t":"2024-01-02T11:44","v":2},{"t":"2024-01-02T11:46","v":74},{"t":"2024-01-02T11:47","v":51},{"t":"2024-01-02T11:48","v":52},{"t":"2024-01-02T11:50","v":32},{"t":"2024-01-02T11:51","v":65},{"t":"2024-01-02T11:52","v":3},{"t":"2024-01-02T11:54","v":2.4},{"t":"2024-01-02T11:55","v":3},{"t":"2024-01-02T11:56","v":31},{"t":"2024-01-02T11:57","v":15},{"t":"2024-01-02T11:58","v":61},{"t":"2024-01-02T11:59","v":19},
{"t":"2024-01-02T12:00","v":27},{"t":"2024-01-02T12:01","v":11},{"t":"2024-01-02T12:02","v":8},{"t":"2024-01-02T12:03","v":59},{"t":"2024-01-02T12:04","v":14},{"t":"2024-01-02T12:05","v":12.5},{"t":"2024-01-02T12:06","v":3},{"t":"2024-01-02T12:08","v":3.6},{"t":"2024-01-02T12:10","v":2.8},{"t":"2024-01-02T12:11","v":26},{"t":"2024-01-02T12:12","v":2.8},{"t":"2024-01-02T12:14","v":20.7},{"t":"2024-01-02T12:15","v":12.5},{"t":"2024-01-02T12:17","v":16},{"t":"2024-01-02T12:19","v":3},{"t":"2024-01-02T12:20","v":5},{"t":"2024-01-02T12:21","v":20},{"t":"2024-01-02T12:22","v":3},{"t":"2024-01-02T12:25","v":3},{"t":"2024-01-02T12:26","v":33},{"t":"2024-01-02T12:28","v":4},{"t":"2024-01-02T12:29","v":15.5},{"t":"2024-01-02T12:30","v":9.5},{"t":"2024-01-02T12:31","v":12.5},{"t":"2024-01-02T12:32","v":8},{"t":"2024-01-02T12:33","v":17},{"t":"2024-01-02T12:35","v":78},{"t":"2024-01-02T12:36","v":3},{"t":"2024-01-02T12:38","v":2},{"t":"2024-01-02T12:40","v":6.6},{"t":"2024-01-02T12:41","v":3.6},{"t":"2024-01-02T12:42","v":29},{"t":"2024-01-02T12:44","v":3.6},{"t":"2024-01-02T12:46","v":14.8},{"t":"2024-01-02T12:47","v":2.8},{"t":"2024-01-02T12:48","v":6.6},{"t":"2024-01-02T12:50","v":2.8},{"t":"2024-01-02T12:52","v":3.3},{"t":"2024-01-02T12:55","v":3.3},{"t":"2024-01-02T12:58","v":2}
]},
"mark": {"type": "line", "strokeWidth": 2, "color": "#F2CC0C", "clip": true},
"encoding": {
  "x": {"field": "t", "type": "temporal",
    "scale": {"domain": [{"year": 2024, "month": 1, "date": 1, "hours": 18, "minutes": 34}, {"year": 2024, "month": 1, "date": 2, "hours": 13, "minutes": 0}]},
    "axis": {"title": null, "format": "%H:%M", "tickCount": 19, "labelFont": "Inter", "labelFontSize": 23, "labelColor": "#ccccdc", "labelFlush": false, "labelOverlap": false, "grid": true, "gridColor": "#2c2f35", "gridWidth": 1, "domain": false, "ticks": true, "tickSize": 9, "tickColor": "#2c2f35", "labelPadding": 10}},
  "y": {"field": "v", "type": "quantitative",
    "scale": {"domain": [0, 228.2], "nice": false},
    "axis": {"title": null, "values": [0, 50, 100, 150, 200], "labelExpr": "datum.value + '%'", "labelFont": "Inter", "labelFontSize": 23, "labelColor": "#ccccdc", "grid": true, "gridColor": "#2c2f35", "gridWidth": 1, "domain": false, "ticks": false, "labelPadding": 12}}
}
},
{
"data": {"values": [{"s": "docker.cpu{container=tt0}"}, {"s": "docker.cpu{container=opentsdb}"}]},
"mark": {"type": "point", "filled": true, "opacity": 0},
"encoding": {
  "color": {"field": "s", "type": "nominal",
    "scale": {"domain": ["docker.cpu{container=tt0}", "docker.cpu{container=opentsdb}"], "range": ["#73BF69", "#F2CC0C"]},
    "legend": {"title": null, "orient": "none", "legendX": -42, "legendY": 567, "direction": "horizontal", "symbolType": "M-1,-0.22H1V0.22H-1Z", "symbolSize": 1024, "symbolStrokeWidth": 0, "symbolOpacity": 1, "labelFont": "Inter", "labelFontSize": 25, "labelColor": "#ccccdc", "labelOffset": 16, "columnPadding": 24, "labelLimit": 0,
      "encode": {"labels": {"update": {"fill": {"signal": "datum.value === 'docker.cpu{container=tt0}' ? '#6e6f78' : '#ccccdc'"}}}}}}
}
}
]
}
